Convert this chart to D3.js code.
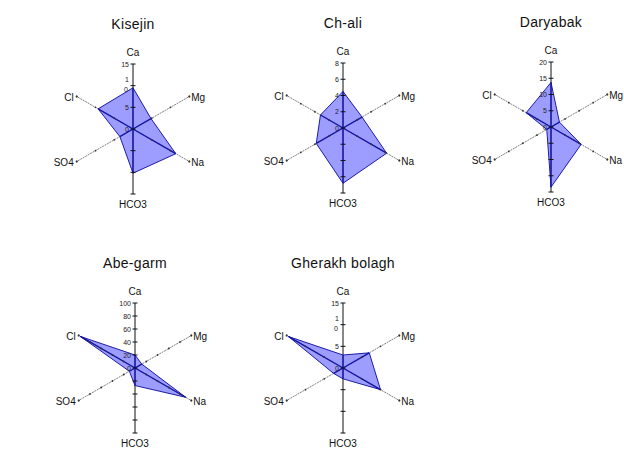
<!DOCTYPE html>
<html>
<head>
<meta charset="utf-8">
<script src="https://cdn.jsdelivr.net/npm/d3@7"></script>
<style>
  body { margin: 0; background: #fff; }
  svg { display: block; font-family: "Liberation Sans", Arial, sans-serif; }
</style>
</head>
<body>
<div id="g1"></div>
<script>
// ions, clockwise from the top
var ions = ["Ca", "Mg", "Na", "HCO3", "SO4", "Cl"];
var sites = ["Kisejin", "Ch-ali", "Daryabak", "Abe-garm", "Gherakh bolagh"];
var axisMax = [15, 8, 20, 100, 15];
var tickStep = [5, 2, 5, 20, 5];

// values: Ca, Mg, Na, HCO3, SO4, Cl
var kisejin  = [9.5, 4.8, 11.4, 10.2, 3.5, 9.3];
var chAli    = [4.5, 2.7, 6.2, 6.8, 3.8, 3.2];
var daryabak = [13.7, 3, 10.7, 18.5, 1.5, 8.8];
var abeGarm  = [20, 12, 90, 27, 10, 97];
var gherakh  = [3, 7, 10, 2.5, 2.5, 14.5];
var values = [kisejin, chAli, daryabak, abeGarm, gherakh];

var w = 624, h = 450, R = 65;
var centers = [[133, 129], [343, 128], [551, 127], [135, 368], [343, 368]];
var angles = [90, 30, -30, -90, -150, 150].map(function(a) { return a * Math.PI / 180; });

var svg = d3.select("#g1").append("svg").attr("width", w).attr("height", h);

sites.forEach(function(site, k) {
  var cx = centers[k][0], cy = centers[k][1];
  var r = d3.scaleLinear().domain([0, axisMax[k]]).range([0, R]);
  var ticks = d3.range(0, axisMax[k] + 1e-9, tickStep[k]);
  var g = svg.append("g").attr("transform", "translate(" + cx + "," + cy + ")");
  function pt(i, v) { return [r(v) * Math.cos(angles[i]), -r(v) * Math.sin(angles[i])]; }

  // slanted axes (grey, dotted)
  [1, 2, 4, 5].forEach(function(i) {
    var e = pt(i, axisMax[k]);
    g.append("line").attr("x1", 0).attr("y1", 0).attr("x2", e[0]).attr("y2", e[1])
      .style("stroke", "#707070").style("stroke-width", 0.9).style("stroke-dasharray", "2,0.8");
    g.append("circle").attr("cx", e[0]).attr("cy", e[1]).attr("r", 1).style("fill", "#555");
  });

  // vertical axis Ca / HCO3
  g.append("line").attr("x1", 0).attr("y1", -R).attr("x2", 0).attr("y2", R)
    .style("stroke", "#111").style("stroke-width", 1);

  // polygon
  var pts = values[k].map(function(v, i) { return pt(i, v); });
  g.append("polygon").attr("points", pts.map(function(p) { return p.join(","); }).join(" "))
    .style("fill", "#6b6bff").style("fill-opacity", 0.66)
    .style("stroke", "#1c1ca8").style("stroke-width", 1);

  // spokes
  g.selectAll("line.spoke").data(pts).enter().append("line").attr("class", "spoke")
    .attr("x1", 0).attr("y1", 0)
    .attr("x2", function(p) { return p[0]; }).attr("y2", function(p) { return p[1]; })
    .style("stroke", "#1414a0").style("stroke-width", 1.4);

  // ticks on vertical axis, both halves
  var tv = ticks.concat(ticks.slice(1).map(function(t) { return -t; }));
  g.selectAll("line.tk").data(tv).enter().append("line").attr("class", "tk")
    .attr("x1", -2.5).attr("x2", 2.5)
    .attr("y1", function(t) { return t >= 0 ? -r(t) : r(-t); })
    .attr("y2", function(t) { return t >= 0 ? -r(t) : r(-t); })
    .style("stroke", "#111").style("stroke-width", 1);

  // little ticks along the slanted axes
  [1, 2, 4, 5].forEach(function(i) {
    ticks.slice(1).forEach(function(t) {
      var p = pt(i, t);
      g.append("circle").attr("cx", p[0]).attr("cy", p[1]).attr("r", 0.9).style("fill", "#333");
    });
  });

  // tick labels (upper half)
  ticks.forEach(function(t) {
    var y = -r(t);
    var lab = g.append("text").attr("x", -4).attr("y", y + 2.5)
      .attr("text-anchor", "end").style("font-size", "7px").style("fill", "#222");
    if (t === 10 && axisMax[k] === 15) {
      // the "10" prints broken over two lines in the source
      lab.append("tspan").attr("x", -4).attr("y", y - 4).text("1");
      lab.append("tspan").attr("x", -5).attr("y", y + 6).text("0");
    } else {
      lab.text(t);
    }
  });

  // ion labels
  ions.forEach(function(ion, i) {
    var e = pt(i, axisMax[k]);
    var t = g.append("text").style("font-size", "10px").style("fill", "#111").text(ion);
    if (i === 0) t.attr("x", 0).attr("y", e[1] - 8).attr("text-anchor", "middle");
    else if (i === 3) t.attr("x", 0).attr("y", e[1] + 14).attr("text-anchor", "middle");
    else if (i === 1 || i === 2) t.attr("x", e[0] + 2).attr("y", e[1] + 4);
    else t.attr("x", e[0] - 3).attr("y", e[1] + 4).attr("text-anchor", "end");
  });

  // title
  g.append("text").attr("x", 0).attr("y", -100).attr("text-anchor", "middle")
    .style("font-size", "14px").style("letter-spacing", "0.3px").style("fill", "#111").text(site);
});
</script>
</body>
</html>
